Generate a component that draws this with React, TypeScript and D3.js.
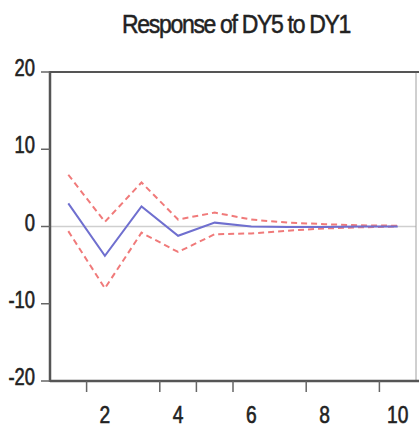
import React from "react";
import * as d3 from "d3";

const periods = [1, 2, 3, 4, 5, 6, 7, 8, 9, 10];
const response = [3.0, -3.8, 2.6, -1.2, 0.5, 0.0, -0.05, -0.05, 0.0, 0.0];
const upper = [6.7, 0.6, 5.7, 0.9, 1.8, 0.9, 0.5, 0.3, 0.15, 0.1];
const lower = [-0.6, -8.0, -0.8, -3.3, -1.0, -0.9, -0.55, -0.25, -0.1, 0.0];
const yTicks = [20, 10, 0, -10, -20];
const xLabels = [2, 4, 6, 8, 10];
const xTickMarks = [1.5, 3.5, 4.5, 5.5, 7.5, 9.5];
const title = "Response of DY5 to DY1";

const W = 419, H = 432;
const L = 50, R = 416, T = 72, B = 381;

export default function App() {
  const x = d3.scaleLinear().domain([0.5, 10.5]).range([L, R]);
  const y = d3.scaleLinear().domain([-20, 20]).range([B, T]);
  const line = d3
    .line<number>()
    .x((_, i) => x(periods[i]))
    .y((d) => y(d));
  const font = "'Liberation Sans', Arial, sans-serif";
  const sx = 0.8;
  return (
    <svg
      width={W}
      height={H}
      style={{ position: "absolute", left: 0, top: 0, background: "#fff" }}
    >
      <text
        x={122}
        y={33}
        textLength={228}
        lengthAdjust="spacingAndGlyphs"
        fontFamily={font}
        fontSize={26}
        fill="#222"
        stroke="#222"
        strokeWidth={0.5}
        letterSpacing={-1.5}
      >
        {title}
      </text>
      <line x1={L} x2={R} y1={y(0)} y2={y(0)} stroke="#cfcfcf" strokeWidth={1.5} />
      <path d={line(upper) || ""} fill="none" stroke="#f07a7a" strokeWidth={2} strokeDasharray="6,4" />
      <path d={line(lower) || ""} fill="none" stroke="#f07a7a" strokeWidth={2} strokeDasharray="6,4" />
      <path d={line(response) || ""} fill="none" stroke="#6f6fcf" strokeWidth={2} />
      <line x1={R} x2={R} y1={T} y2={B} stroke="#a0a0a0" strokeWidth={1} />
      <line x1={L} x2={419} y1={T} y2={T} stroke="#555" strokeWidth={2} />
      <line x1={L} x2={L} y1={T - 1} y2={B + 1} stroke="#555" strokeWidth={2.5} />
      <line x1={L} x2={419} y1={B} y2={B} stroke="#555" strokeWidth={2.5} />
      {yTicks.map((t) => (
        <g key={t}>
          <line x1={L - 9} x2={L} y1={y(t)} y2={y(t)} stroke="#666" strokeWidth={1.5} />
          <text
            transform={`translate(35,${y(t) + 4}) scale(${sx},1)`}
            textAnchor="end"
            fontFamily={font}
            fontSize={23}
            fill="#222"
            stroke="#222"
            strokeWidth={0.6}
          >
            {t}
          </text>
        </g>
      ))}
      {xTickMarks.map((t) => (
        <line key={t} x1={x(t)} x2={x(t)} y1={B} y2={B + 11} stroke="#666" strokeWidth={1.5} />
      ))}
      {xLabels.map((t) => (
        <text
          key={t}
          transform={`translate(${x(t)},${423}) scale(${sx},1)`}
          textAnchor="middle"
          fontFamily={font}
          fontSize={24}
          fill="#222"
          stroke="#222"
          strokeWidth={0.6}
        >
          {t}
        </text>
      ))}
    </svg>
  );
}
